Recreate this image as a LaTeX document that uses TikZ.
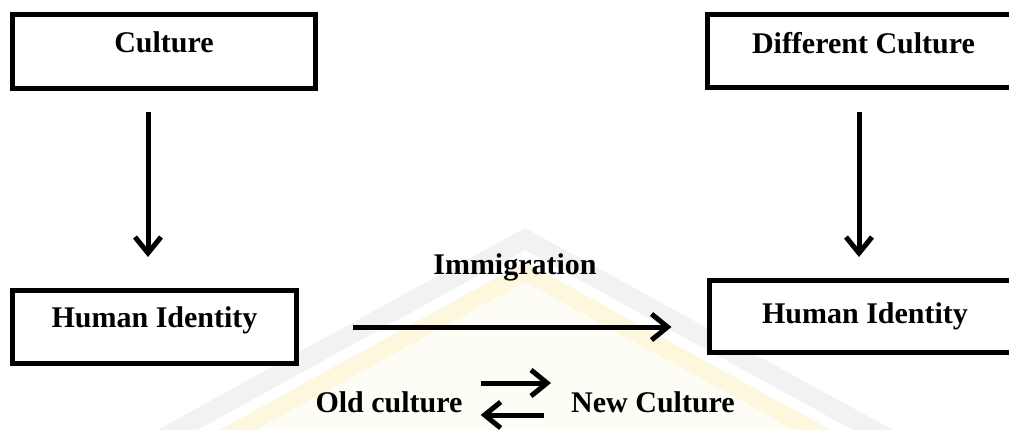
\documentclass[tikz,border=0pt]{standalone}
\usepackage{fontspec}
\setmainfont{Liberation Serif}
\usetikzlibrary{arrows.meta}
\definecolor{wmgrey}{HTML}{F2F2F2}
\definecolor{wmyellow}{HTML}{FCF7DD}
\definecolor{wmcream}{HTML}{FEFDF5}
\tikzset{
  boxnode/.style={draw=black, line width=5pt, rectangle, fill=white,
    font=\bfseries\fontsize{30}{36}\selectfont, inner sep=0pt,
    text height=20pt, text depth=18pt},
  lbl/.style={font=\bfseries\fontsize{30}{36}\selectfont, inner sep=0pt},
  arr/.style={line width=5pt, -{Straight Barb[length=16pt,width=26pt,line width=5pt]}},
}
\begin{document}
\begin{tikzpicture}[x=1pt,y=-1pt]
\clip (0,0) rectangle (1009,429);
\fill[white] (0,0) rectangle (1009,429);
% faint watermark
\fill[wmgrey] (525,228) -- (130,445) -- (920,445) -- cycle;
\fill[white] (525,250) -- (170,445) -- (880,445) -- cycle;
\fill[wmyellow] (525,262) -- (192,445) -- (858,445) -- cycle;
\fill[wmcream] (525,282) -- (228,445) -- (822,445) -- cycle;
% boxes
\node[boxnode, minimum width=303pt, minimum height=74pt] (c1) at (164,51.5) {Culture};
\node[boxnode, minimum width=313pt, minimum height=73pt, text depth=16pt] (c2) at (863.5,51) {Different Culture};
\node[boxnode, minimum width=284pt, minimum height=73pt, text depth=20pt] (h1) at (154.5,327) {Human Identity};
\node[boxnode, minimum width=312pt, minimum height=72pt, text depth=7pt] (h2) at (865,316.5) {Human Identity};
% labels
\node[lbl] (im) at (515,267) {Immigration};
\node[lbl] (old) at (389,402) {Old culture};
\node[lbl] (new) at (653,402) {New Culture};
% arrows
\draw[arr, shorten <=21pt, shorten >=31pt] ([xshift=-16pt]c1.south) -- ([xshift=-6.5pt]h1.north);
\draw[arr, shorten <=22pt, shorten >=21pt] ([xshift=-4.5pt]c2.south) -- ([xshift=-6pt]h2.north);
\draw[arr, shorten <=54pt, shorten >=35pt] (h1.east) -- (h1.east -| h2.west);
\draw[arr, shorten <=18pt, shorten >=20pt] ([yshift=19pt]old.east) -- ([yshift=19pt]old.east -| new.west);
\draw[arr, shorten <=27pt, shorten >=18pt] ([yshift=-13pt]new.west) -- ([yshift=-13pt]new.west -| old.east);
\end{tikzpicture}
\end{document}
